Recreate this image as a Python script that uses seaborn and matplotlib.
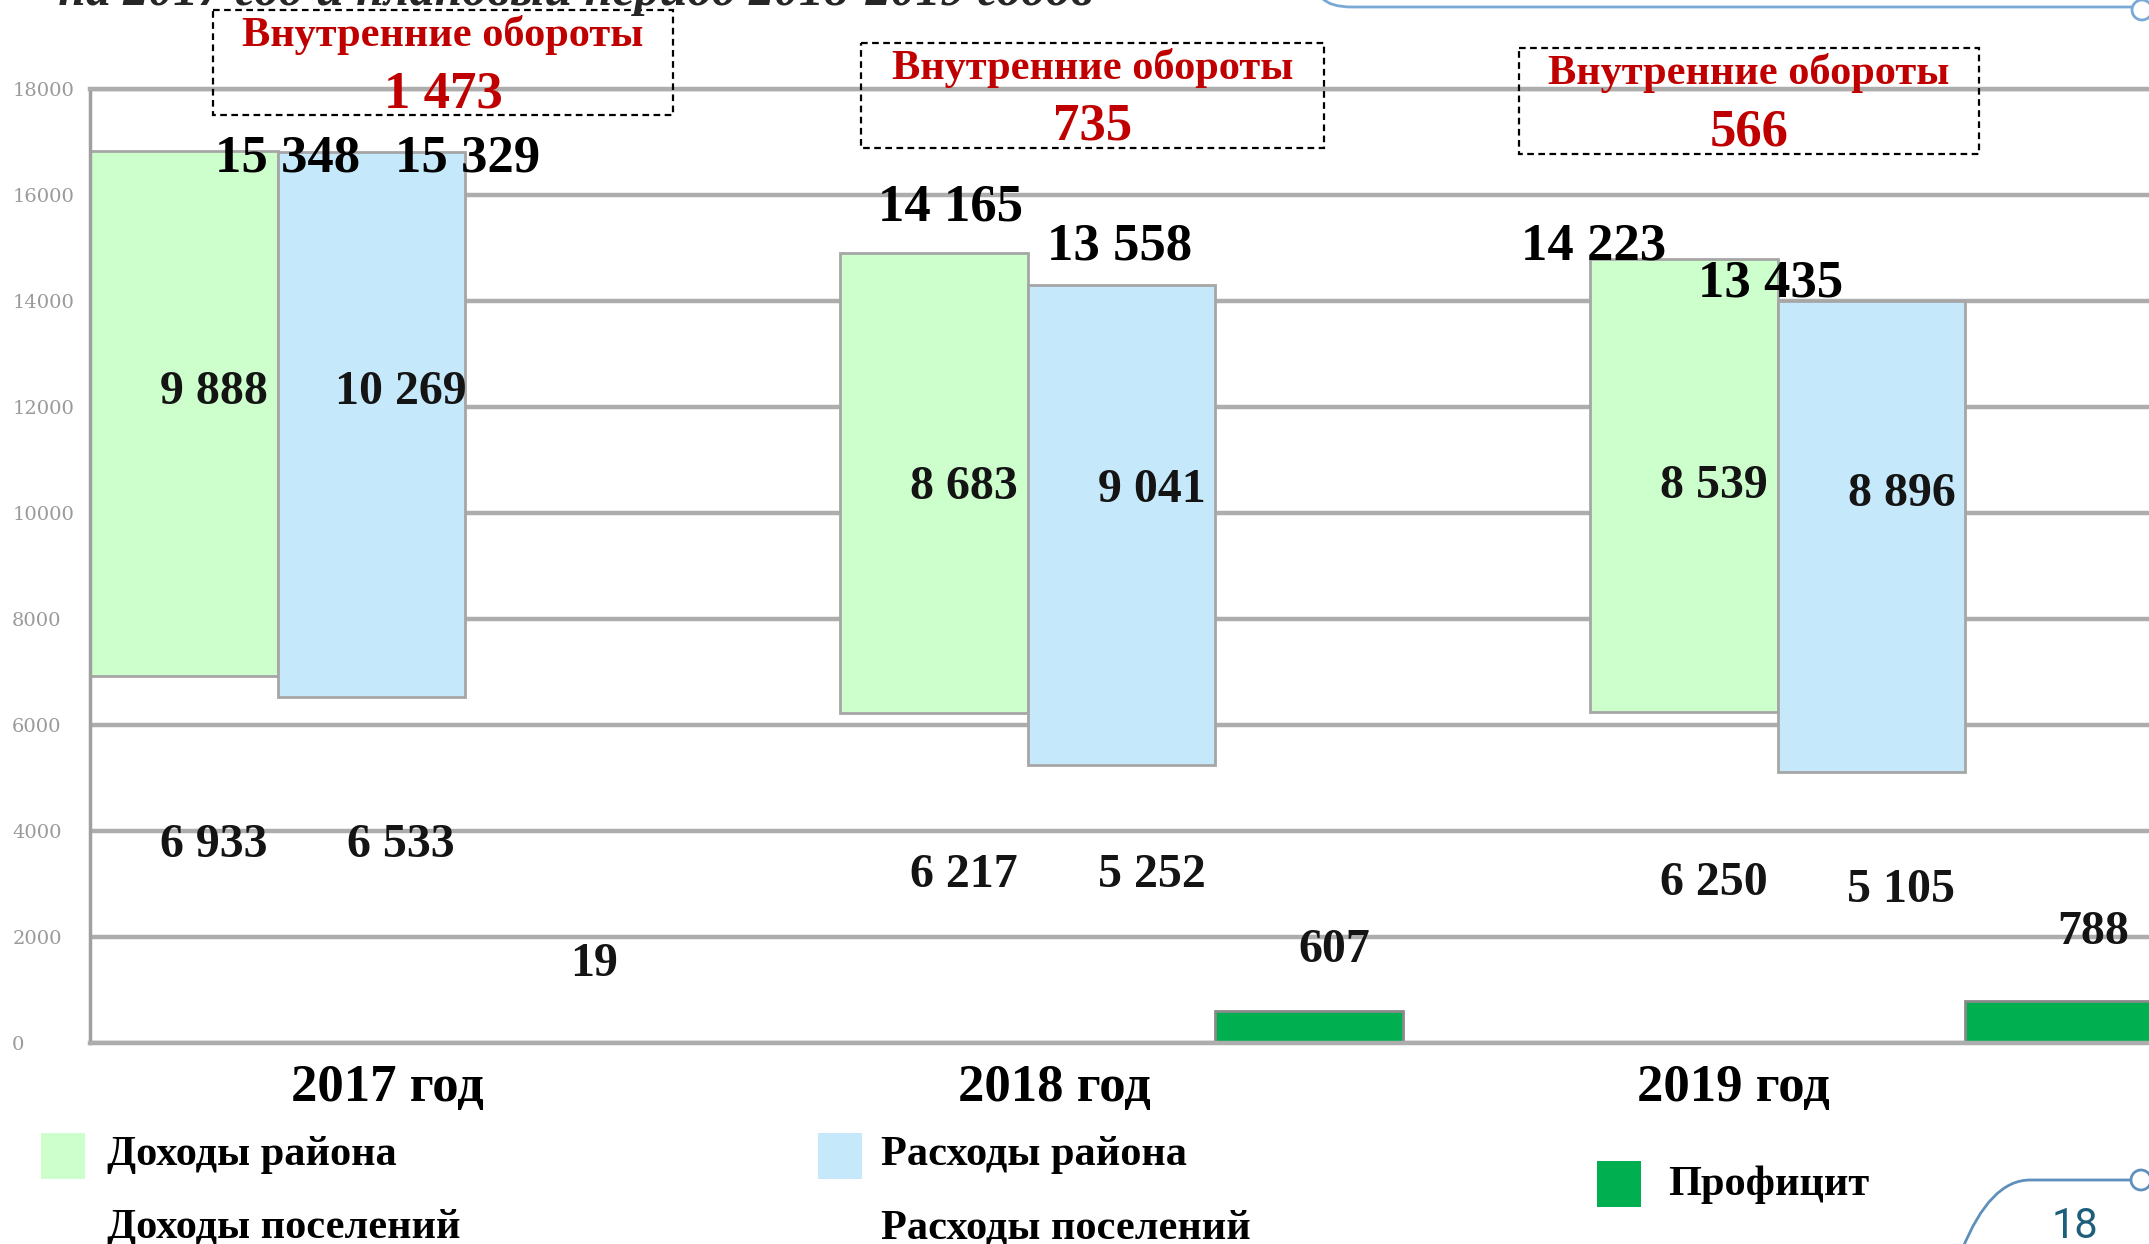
import matplotlib
matplotlib.use("Agg")
import numpy as np
import seaborn as sns
import matplotlib.pyplot as plt
from matplotlib.patches import Rectangle, Circle, PathPatch
from matplotlib.path import Path
from matplotlib.transforms import Affine2D

# data (тыс. руб.)
years = ["2017 год", "2018 год", "2019 год"]
district_income = [9888, 8683, 8539]
settlement_income = [6933, 6217, 6250]
district_expense = [10269, 9041, 8896]
settlement_expense = [6533, 5252, 5105]
income_total = [15348, 14165, 14223]
expense_total = [15329, 13558, 13435]
surplus = [19, 607, 788]
internal_turnover = [1473, 735, 566]

GREEN = "#ccffcc"
BLUE = "#c5e9fb"
PROFIT = "#00b050"
EDGE = "#a6a6a6"
RED = "#c00000"

W_PX, H_PX = 2149, 1244
BAR_W = 0.25


def fmt(v):
    return f"{v:,}".replace(",", " ")


sns.set_theme(style="white")
plt.rcParams["font.family"] = ["Liberation Serif", "DejaVu Serif"]

fig = plt.figure(figsize=(W_PX / 100, H_PX / 100), dpi=100)
ax = fig.add_axes([90 / W_PX, 1 - 1043 / H_PX, (W_PX - 90) / W_PX, (1043 - 89) / H_PX])
# figure pixel coords, origin top-left
px = Affine2D().scale(1 / W_PX, -1 / H_PX).translate(0, 1) + fig.transFigure

grp = np.arange(len(years))
bar_kw = dict(native_scale=True, width=BAR_W, saturation=1, errorbar=None,
              linewidth=2, ax=ax)
sns.barplot(x=grp - BAR_W, y=district_income, bottom=settlement_income,
            color=GREEN, edgecolor=EDGE, **bar_kw)
sns.barplot(x=grp * 1.0, y=district_expense, bottom=settlement_expense,
            color=BLUE, edgecolor=EDGE, **bar_kw)
sns.barplot(x=grp + BAR_W, y=surplus, color=PROFIT, edgecolor="#8a8a8a", **bar_kw)

ax.set_xlim(-0.375, 2.37)
ax.set_ylim(0, 18000)
ax.set_yticks(range(0, 18001, 2000))
ax.yaxis.grid(True, color="#adadad", linewidth=3.2)
ax.set_axisbelow(True)
for side in ["top", "bottom"]:
    ax.spines[side].set_color("#adadad")
    ax.spines[side].set_linewidth(3.2)
ax.spines["right"].set_visible(False)
ax.spines["left"].set_color("#a0a0a0")
ax.spines["left"].set_linewidth(2.5)
ax.tick_params(axis="y", direction="out", length=10, width=2, color="#a0a0a0",
               labelsize=14, labelcolor="#9a9a9a", pad=46)
for lab in ax.get_yticklabels():
    lab.set_horizontalalignment("left")
    lab.set_family("DejaVu Serif")

ax.set_xticks([0.021, 0.911, 1.816])
ax.set_xticklabels(years, fontsize=38, fontweight="bold", color="black")
ax.tick_params(axis="x", length=0, pad=15)
ax.set_xlabel("")
ax.set_ylabel("")

# labels on bars
txt = dict(ha="center", va="baseline", fontweight="bold", color="#141414", fontsize=34.5)
green_in_y = [12050, 10270, 10290]
blue_in_y = [12050, 10215, 10140]
green_low_y = [3517, 2948, 2793]
blue_low_y = [3517, 2948, 2664]
for i in grp:
    ax.text(i - 0.21, green_in_y[i], fmt(district_income[i]), **txt)
    ax.text(i + 0.04, blue_in_y[i], fmt(district_expense[i]), **txt)
    ax.text(i - 0.21, green_low_y[i], fmt(settlement_income[i]), **txt)
    ax.text(i + 0.04, blue_low_y[i], fmt(settlement_expense[i]), **txt)

tot_kw = dict(ha="center", va="baseline", fontweight="bold", color="black", fontsize=38)
inc_x = [-0.111, 0.772, 1.630]
inc_y = [16441, 15516, 14792]
exp_x = [0.128, 0.997, 1.866]
exp_y = [16441, 14792, 14094]
for i in grp:
    ax.text(inc_x[i], inc_y[i], fmt(income_total[i]), **tot_kw)
    ax.text(exp_x[i], exp_y[i], fmt(expense_total[i]), **tot_kw)

sur_x = [0.297, 1.284, 2.295]
sur_y = [1267, 1526, 1875]
for i in grp:
    ax.text(sur_x[i], sur_y[i], fmt(surplus[i]), clip_on=False, **txt)

# internal turnover boxes
boxes = [(213, 10, 673, 115), (861, 43, 1324, 148), (1519, 48, 1979, 154)]
for (x0, y0, x1, y1), v in zip(boxes, internal_turnover):
    fig.add_artist(Rectangle((x0, y0), x1 - x0, y1 - y0, transform=px, fill=False,
                             edgecolor="black", linewidth=1.6, linestyle=(0, (3, 2))))
    cx = (x0 + x1) / 2
    fig.text(cx, y0 + 36, "Внутренние обороты", transform=px, ha="center",
             va="baseline", fontsize=30.5, fontweight="bold", color=RED)
    fig.text(cx, y0 + 97, fmt(v), transform=px, ha="center", va="baseline",
             fontsize=38, fontweight="bold", color=RED)

# legend
leg = [
    (GREEN, 41, 1133, 107, 1165, "Доходы района"),
    ("white", 41, 1206, 107, 1238, "Доходы поселений"),
    (BLUE, 818, 1133, 881, 1165, "Расходы района"),
    ("white", 818, 1206, 881, 1238, "Расходы поселений"),
    (PROFIT, 1597, 1161, 1668, 1195, "Профицит"),
]
for col, bx, by, tx, ty, name in leg:
    fig.add_artist(Rectangle((bx, by), 44, 46, transform=px, facecolor=col,
                             edgecolor="none"))
    fig.text(tx, ty, name, transform=px, ha="left", va="baseline", fontsize=30.5,
             fontweight="bold", color="black")

# slide leftovers: cut title and decorations
fig.text(1093, 5, "на 2017 год и плановый период 2018-2019 годов", transform=px,
         ha="right", va="baseline", fontsize=36, fontweight="bold", style="italic")
deco = "#7aa9d6"
top_path = Path([(1322, -2), (1330, 7), (1352, 7), (2132, 7)],
                [Path.MOVETO, Path.CURVE3, Path.CURVE3, Path.LINETO])
fig.add_artist(PathPatch(top_path, transform=px, fill=False, edgecolor=deco, linewidth=2))
fig.add_artist(Circle((2142, 10), 10, transform=px, facecolor="white", edgecolor=deco,
                      linewidth=2))
bot_path = Path([(1962, 1250), (1990, 1180), (2030, 1180), (2130, 1180)],
                [Path.MOVETO, Path.CURVE3, Path.CURVE3, Path.LINETO])
fig.add_artist(PathPatch(bot_path, transform=px, fill=False, edgecolor="#5f90bb",
                         linewidth=2))
fig.add_artist(Circle((2141, 1180), 10, transform=px, facecolor="white",
                      edgecolor="#5f90bb", linewidth=2))
fig.text(2075, 1238, "18", transform=px, ha="center", va="baseline", fontsize=30,
         color="#1d5f7a", family="Roboto")

fig.savefig("out.png", dpi=100)
